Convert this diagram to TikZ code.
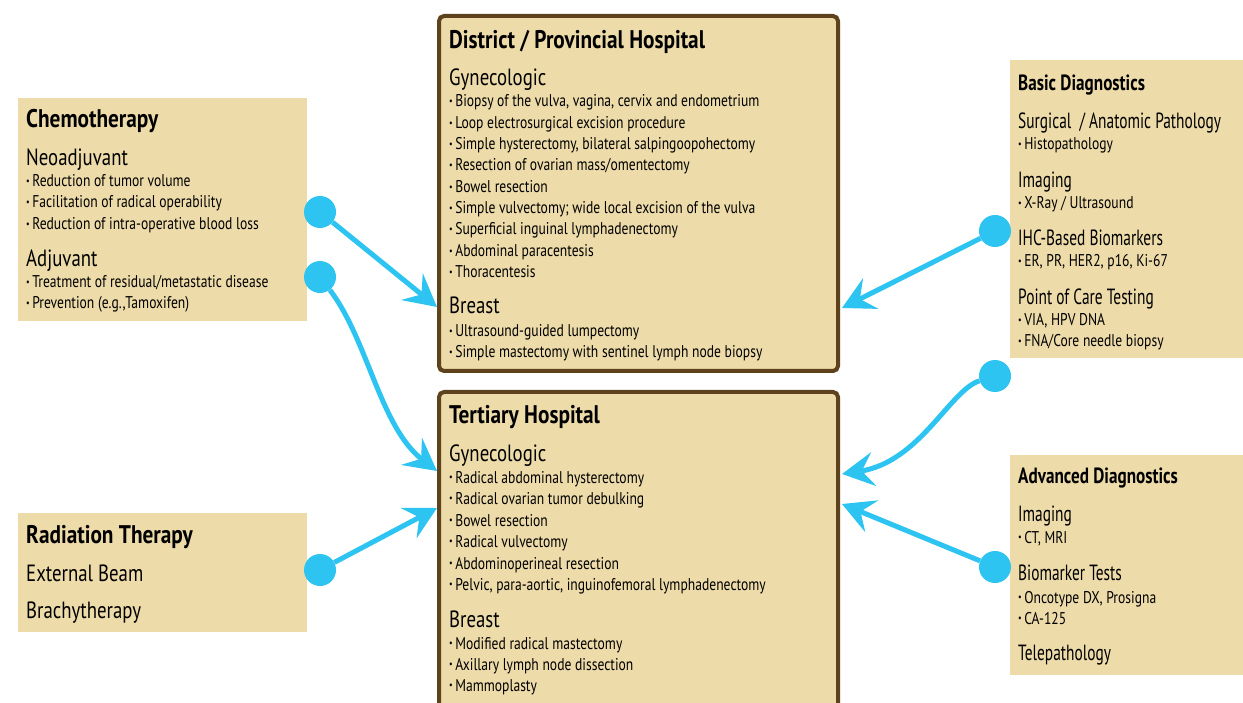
\documentclass[tikz,border=0pt]{standalone}
\usepackage{fontspec}
\setmainfont{PT Sans}[FakeStretch=0.8, BoldFeatures={FakeStretch=0.835}]
\newfontfamily\narrowfont{PT Sans}[FakeStretch=0.70, BoldFeatures={FakeStretch=0.78}]
\usetikzlibrary{arrows.meta}
\definecolor{boxfill}{HTML}{EDDBA9}
\definecolor{boxline}{HTML}{5E421C}
\definecolor{arr}{HTML}{2EC4F2}
\newcommand{\bu}{\raisebox{0.14em}{\fontsize{10}{10}\selectfont•}\hspace{2.5pt}}
\tikzset{
 box/.style={fill=boxfill, draw=none, anchor=north west, outer sep=0pt, inner sep=0pt},
 hosp/.style={fill=boxfill, draw=boxline, line width=4pt, rounded corners=5pt, anchor=north west, outer sep=0pt, inner sep=0pt},
 ttl/.style={anchor=base west, inner sep=0pt, yshift=-7.5pt, font=\bfseries\fontsize{25.5}{25.5}\selectfont},
 rttl/.style={anchor=base west, inner sep=0pt, yshift=-7.5pt, font=\narrowfont\bfseries\fontsize{22}{22}\selectfont},
 hd/.style={anchor=base west, inner sep=0pt, yshift=-8pt, font=\fontsize{23.5}{23.5}\selectfont},
 rhd/.style={anchor=base west, inner sep=0pt, yshift=-7.5pt, font=\narrowfont\fontsize{22}{22}\selectfont},
 bl/.style={anchor=base west, inner sep=0pt, yshift=-6pt, font=\fontsize{17}{17}\selectfont},
 dotc/.style={circle, fill=arr, minimum size=32pt, inner sep=0pt},
 conn/.style={draw=arr, line width=5pt, -{Stealth[length=32pt,width=34pt,inset=12pt]}},
}
\begin{document}
\begin{tikzpicture}[x=1pt,y=-1pt]
\useasboundingbox[fill=white] (0,0) rectangle (1243,703);
\begin{scope}
\clip (0,0) rectangle (1243,703);
% boxes
\node[box, minimum width=289pt, minimum height=223pt] (chemo) at (18,98) {};
\node[box, minimum width=289pt, minimum height=119pt] (rad) at (18,513) {};
\node[hosp, minimum width=399pt, minimum height=355pt] (dist) at (439,16) {};
\node[hosp, minimum width=399pt, minimum height=330pt] (tert) at (439,392) {};
\node[box, minimum width=240pt, minimum height=298pt] (basic) at (1010,60) {};
\node[box, minimum width=240pt, minimum height=220pt] (adv) at (1010,455) {};

% Chemotherapy
\node[ttl] (c0) at (26,120) {Chemotherapy};
\node[hd] (c1) at (26,158) {Neoadjuvant};
\node[bl] (c2) at (26,181) {\bu Reduction of tumor volume};
\node[bl] (c3) at (26,202) {\bu Facilitation of radical operability};
\node[bl] (c4) at (26,224) {\bu Reduction of intra-operative blood loss};
\node[hd] (c5) at (26,259) {Adjuvant};
\node[bl] (c6) at (26,282) {\bu Treatment of residual/metastatic disease};
\node[bl] (c7) at (26,303) {\bu Prevention (e.g.,Tamoxifen)};

% Radiation
\node[ttl] (r0) at (26,536) {Radiation Therapy};
\node[hd] (r1) at (26,573) {External Beam};
\node[hd] (r2) at (26,610) {Brachytherapy};

% District
\node[ttl] (d0) at (449,41) {District / Provincial Hospital};
\node[hd] (d1) at (449,78) {Gynecologic};
\node[bl] (d2) at (449,101) {\bu Biopsy of the vulva, vagina, cervix and endometrium};
\node[bl] (d3) at (449,123) {\bu Loop electrosurgical excision procedure};
\node[bl] (d4) at (449,144) {\bu Simple hysterectomy, bilateral salpingoopohectomy};
\node[bl] (d5) at (449,165) {\bu Resection of ovarian mass/omentectomy};
\node[bl] (d6) at (449,187) {\bu Bowel resection};
\node[bl] (d7) at (449,208) {\bu Simple vulvectomy; wide local excision of the vulva};
\node[bl] (d8) at (449,229) {\bu Superficial inguinal lymphadenectomy};
\node[bl] (d9) at (449,251) {\bu Abdominal paracentesis};
\node[bl] (d10) at (449,272) {\bu Thoracentesis};
\node[hd] (d11) at (449,306) {Breast};
\node[bl] (d12) at (449,331) {\bu Ultrasound-guided lumpectomy};
\node[bl] (d13) at (449,352) {\bu Simple mastectomy with sentinel lymph node biopsy};

% Tertiary
\node[ttl] (t0) at (449,416) {Tertiary Hospital};
\node[hd] (t1) at (449,453) {Gynecologic};
\node[bl] (t2) at (449,477) {\bu Radical abdominal hysterectomy};
\node[bl] (t3) at (449,498) {\bu Radical ovarian tumor debulking};
\node[bl] (t4) at (449,520) {\bu Bowel resection};
\node[bl] (t5) at (449,541) {\bu Radical vulvectomy};
\node[bl] (t6) at (449,563) {\bu Abdominoperineal resection};
\node[bl] (t7) at (449,584) {\bu Pelvic, para-aortic, inguinofemoral lymphadenectomy};
\node[hd] (t8) at (449,619) {Breast};
\node[bl] (t9) at (449,643) {\bu Modified radical mastectomy};
\node[bl] (t10) at (449,664) {\bu Axillary lymph node dissection};
\node[bl] (t11) at (449,685) {\bu Mammoplasty};

% Basic
\node[rttl] (b0) at (1018,83) {Basic Diagnostics};
\node[rhd] (b1) at (1018,121) {Surgical~ / Anatomic Pathology};
\node[bl] (b2) at (1018,144) {\bu Histopathology};
\node[rhd] (b3) at (1018,180) {Imaging};
\node[bl] (b4) at (1018,203) {\bu X-Ray / Ultrasound};
\node[rhd] (b5) at (1018,238) {IHC-Based Biomarkers};
\node[bl] (b6) at (1018,261) {\bu ER, PR, HER2, p16, Ki-67};
\node[rhd] (b7) at (1018,297) {Point of Care Testing};
\node[bl] (b8) at (1018,320) {\bu VIA, HPV DNA};
\node[bl] (b9) at (1018,341) {\bu FNA/Core needle biopsy};

% Advanced
\node[rttl] (a0) at (1018,476) {Advanced Diagnostics};
\node[rhd] (a1) at (1018,514) {Imaging};
\node[bl] (a2) at (1018,537) {\bu CT, MRI};
\node[rhd] (a3) at (1018,573) {Biomarker Tests};
\node[bl] (a4) at (1018,597) {\bu Oncotype DX, Prosigna};
\node[bl] (a5) at (1018,618) {\bu CA-125};
\node[rhd] (a6) at (1018,653) {Telepathology};

% circles
\node[dotc] (k1) at (320,212) {};
\node[dotc] (k2) at (320,277) {};
\node[dotc] (k3) at (320,570) {};
\node[dotc] (k4) at (995,231) {};
\node[dotc] (k5) at (995,376) {};
\node[dotc] (k6) at (995,567) {};

% arrow tips
\coordinate (e1) at (437,307);
\coordinate (e2) at (437,471);
\coordinate (e3) at (437,508);
\coordinate (e4) at (842,308);
\coordinate (e5) at (842,474);
\coordinate (e6) at (842,504);

\draw[conn] (k1) -- (e1);
\draw[conn] (k2) .. controls (368,340) and (380,427) .. (e2);
\draw[conn] (k3) -- (e3);
\draw[conn] (k4) -- (e4);
\draw[conn] (k5) .. controls (950,390) and (920,462) .. (e5);
\draw[conn] (k6) -- (e6);
\end{scope}
\end{tikzpicture}
\end{document}
